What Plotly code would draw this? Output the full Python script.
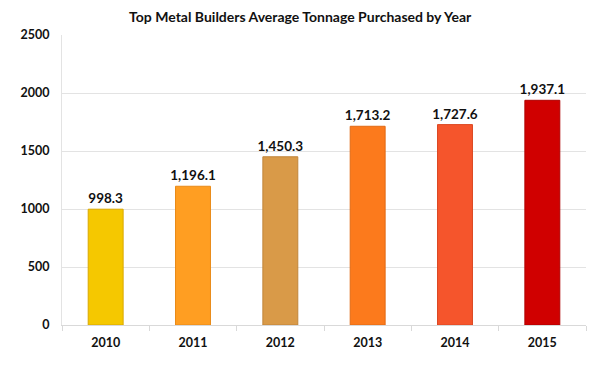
import plotly.graph_objects as go

years = ["2010", "2011", "2012", "2013", "2014", "2015"]
tonnage = [998.3, 1196.1, 1450.3, 1713.2, 1727.6, 1937.1]
labels = ["998.3", "1,196.1", "1,450.3", "1,713.2", "1,727.6", "1,937.1"]
colors = ["#F5C800", "#FF9E22", "#D99A48", "#FC7A1C", "#F5552C", "#D00000"]
edges = ["#D9A800", "#E98A18", "#C0853A", "#E26A14", "#DC4822", "#B00000"]

fig = go.Figure(go.Bar(
    x=years, y=tonnage, text=labels, textposition="outside",
    constraintext="none",
    textfont=dict(family="Lato", size=13.5, color="#111111", weight="bold"),
    marker=dict(color=colors, line=dict(color=edges, width=1)),
    width=0.4, cliponaxis=False,
))

fig.update_layout(
    width=600, height=373,
    margin=dict(l=44, r=22, t=27, b=56),
    paper_bgcolor="white", plot_bgcolor="white",
    title=dict(text="Top Metal Builders Average Tonnage Purchased by Year",
               x=0.487, xanchor="center", y=0.976, yanchor="middle",
               font=dict(family="Lato", size=14, color="#111111", weight="bold")),
    showlegend=False,
    font=dict(family="Lato", size=12, color="#111111"),
)
fig.update_xaxes(
    showline=True, linecolor="#D9D9D9", linewidth=1,
    ticks="outside", tickson="boundaries", ticklen=5, tickcolor="#D9D9D9",
    ticklabelstandoff=6,
    tickfont=dict(family="Lato", size=12.5, color="#111111", weight="bold"),
    showgrid=False,
)
fig.update_yaxes(
    range=[0, 2500], dtick=500, showgrid=True, gridcolor="#E3E3E3",
    showline=True, linecolor="#E3E3E3", zeroline=False,
    ticks="", ticklabelstandoff=9,
    tickfont=dict(family="Lato", size=12.5, color="#111111", weight="bold"),
)

fig.write_html("out.html")
